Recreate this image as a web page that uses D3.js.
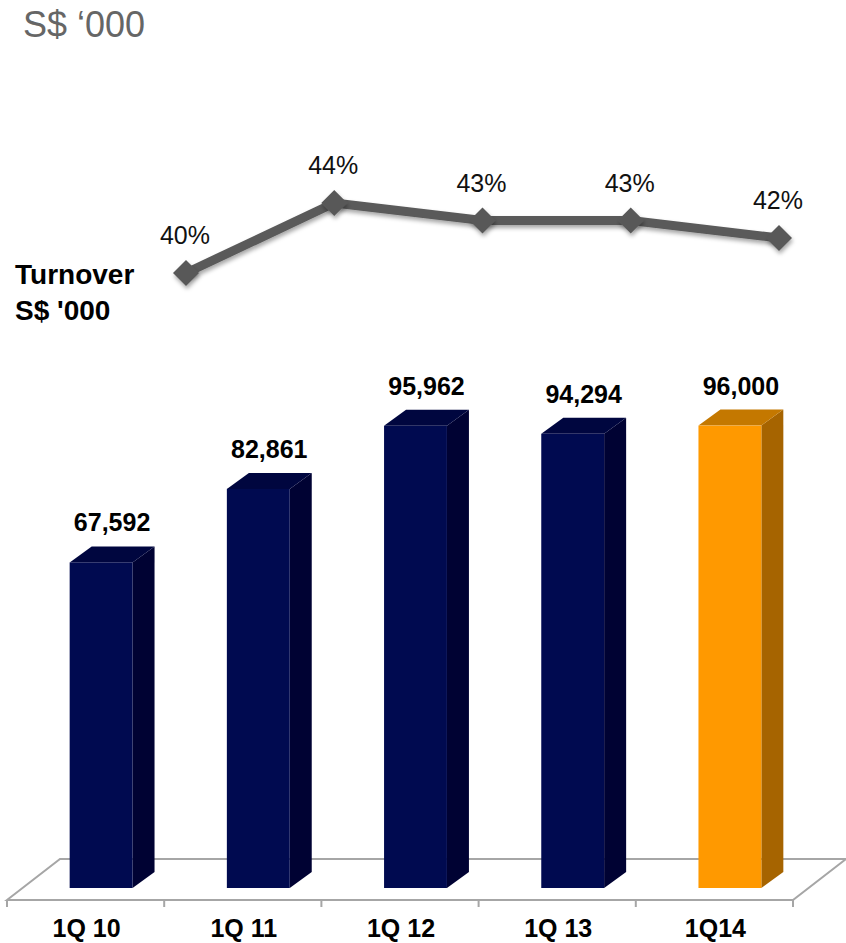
<!DOCTYPE html>
<html>
<head>
<meta charset="utf-8">
<script src="https://cdn.jsdelivr.net/npm/d3@7"></script>
<style>
  html, body { margin: 0; padding: 0; background: #fff; }
  svg { display: block; font-family: "Liberation Sans", Arial, sans-serif; }
</style>
</head>
<body>
<svg id="chart" width="846" height="943"></svg>
<script>
// Quarterly turnover (S$ '000) and margin (%)
const categories = ["1Q 10", "1Q 11", "1Q 12", "1Q 13", "1Q14"];
const turnover = [67592, 82861, 95962, 94294, 96000];
const turnoverLabels = ["67,592", "82,861", "95,962", "94,294", "96,000"];
const margin = [40, 44, 43, 43, 42];
const marginLabels = ["40%", "44%", "43%", "43%", "42%"];

const svg = d3.select("#chart");

// 3D box geometry
const depthX = 22, depthY = -16;          // bar depth offset
const floorDX = 53, floorDY = -41;        // floor depth offset
const floorFrontY = 900;
const barBaseY = 888;
const barShift = 15.5;                    // bars sit partway back on the floor

const x = d3.scaleBand().domain(categories).range([7, 793]).padding(0);
const y = d3.scaleLinear().domain([0, 120000]).range([barBaseY, barBaseY - 578]);
const barW = x.bandwidth() * 0.4;

const palette = [
  { front: "#000a50", side: "#000233", top: "#00063f" },
  { front: "#000a50", side: "#000233", top: "#00063f" },
  { front: "#000a50", side: "#000233", top: "#00063f" },
  { front: "#000a50", side: "#000233", top: "#00063f" },
  { front: "#ff9900", side: "#a66400", top: "#c47800" }
];

// Floor
const x0 = x.range()[0], x1 = x.range()[1];
const floor = svg.append("g").attr("fill", "none").attr("stroke", "#a6a6a6").attr("stroke-width", 2);
floor.append("path").attr("d",
  `M${x0},${floorFrontY} L${x0 + floorDX},${floorFrontY + floorDY} L${x1 + floorDX},${floorFrontY + floorDY} L${x1},${floorFrontY} Z`);
// tick marks on front edge
floor.selectAll("line.tick")
  .data(d3.range(categories.length + 1))
  .join("line")
  .attr("x1", i => x0 + i * x.step())
  .attr("x2", i => x0 + i * x.step())
  .attr("y1", floorFrontY)
  .attr("y2", floorFrontY + 7);

// Bars
const bars = svg.append("g");
categories.forEach((c, i) => {
  const cx = x(c) + x.bandwidth() / 2 + barShift;
  const l = cx - barW / 2, r = cx + barW / 2;
  const t = y(turnover[i]), b = barBaseY;
  const col = palette[i];
  const g = bars.append("g");
  g.append("path").attr("fill", col.side)
    .attr("d", `M${r},${t} L${r + depthX},${t + depthY} L${r + depthX},${b + depthY} L${r},${b} Z`);
  g.append("path").attr("fill", col.top)
    .attr("d", `M${l},${t} L${l + depthX},${t + depthY} L${r + depthX},${t + depthY} L${r},${t} Z`);
  g.append("rect").attr("fill", col.front)
    .attr("x", l).attr("y", t).attr("width", barW).attr("height", b - t);
  g.append("text")
    .attr("x", cx + depthX / 2)
    .attr("y", t + depthY - 15)
    .attr("text-anchor", "middle")
    .attr("font-size", 25)
    .attr("font-weight", "bold")
    .attr("fill", "#000")
    .text(turnoverLabels[i]);
});

// Category labels
svg.append("g").selectAll("text")
  .data(categories)
  .join("text")
  .attr("x", d => x(d) + x.bandwidth() / 2 + 1)
  .attr("y", 937)
  .attr("text-anchor", "middle")
  .attr("font-size", 25)
  .attr("font-weight", "bold")
  .attr("fill", "#000")
  .text(d => d);

// Margin line
const defs = svg.append("defs");
const f = defs.append("filter").attr("id", "shadow").attr("x", "-50%").attr("y", "-50%").attr("width", "200%").attr("height", "200%");
f.append("feDropShadow").attr("dx", 1).attr("dy", 3).attr("stdDeviation", 2)
  .attr("flood-color", "#000").attr("flood-opacity", 0.35);

const lx = d3.scalePoint().domain(categories).range([186, 779]);
const ly = d3.scaleLinear().domain([40, 44]).range([273, 203]);

const lineGen = d3.line().x((d, i) => lx(categories[i])).y(d => ly(d));
svg.append("path")
  .datum(margin)
  .attr("d", lineGen)
  .attr("fill", "none")
  .attr("stroke", "#5a5a5a")
  .attr("stroke-width", 9)
  .attr("stroke-linejoin", "round")
  .attr("filter", "url(#shadow)");

svg.append("g").selectAll("path")
  .data(margin)
  .join("path")
  .attr("d", d3.symbol().type(d3.symbolDiamond2).size(430))
  .attr("transform", (d, i) => `translate(${lx(categories[i])},${ly(d)})`)
  .attr("fill", "#595959")
  .attr("filter", "url(#shadow)");

svg.append("g").selectAll("text")
  .data(margin)
  .join("text")
  .attr("x", (d, i) => lx(categories[i]) - 1)
  .attr("y", d => ly(d) - 29)
  .attr("text-anchor", "middle")
  .attr("font-size", 25)
  .attr("fill", "#111")
  .text((d, i) => marginLabels[i]);

// Titles
svg.append("text")
  .attr("x", 23).attr("y", 37)
  .attr("font-size", 36)
  .attr("fill", "#666")
  .text("S$ \u2018000");

const legend = svg.append("text")
  .attr("x", 15)
  .attr("font-size", 28)
  .attr("font-weight", "bold")
  .attr("fill", "#000");
legend.append("tspan").attr("x", 15).attr("y", 284).text("Turnover");
legend.append("tspan").attr("x", 15).attr("y", 320).text("S$ '000");
</script>
</body>
</html>
